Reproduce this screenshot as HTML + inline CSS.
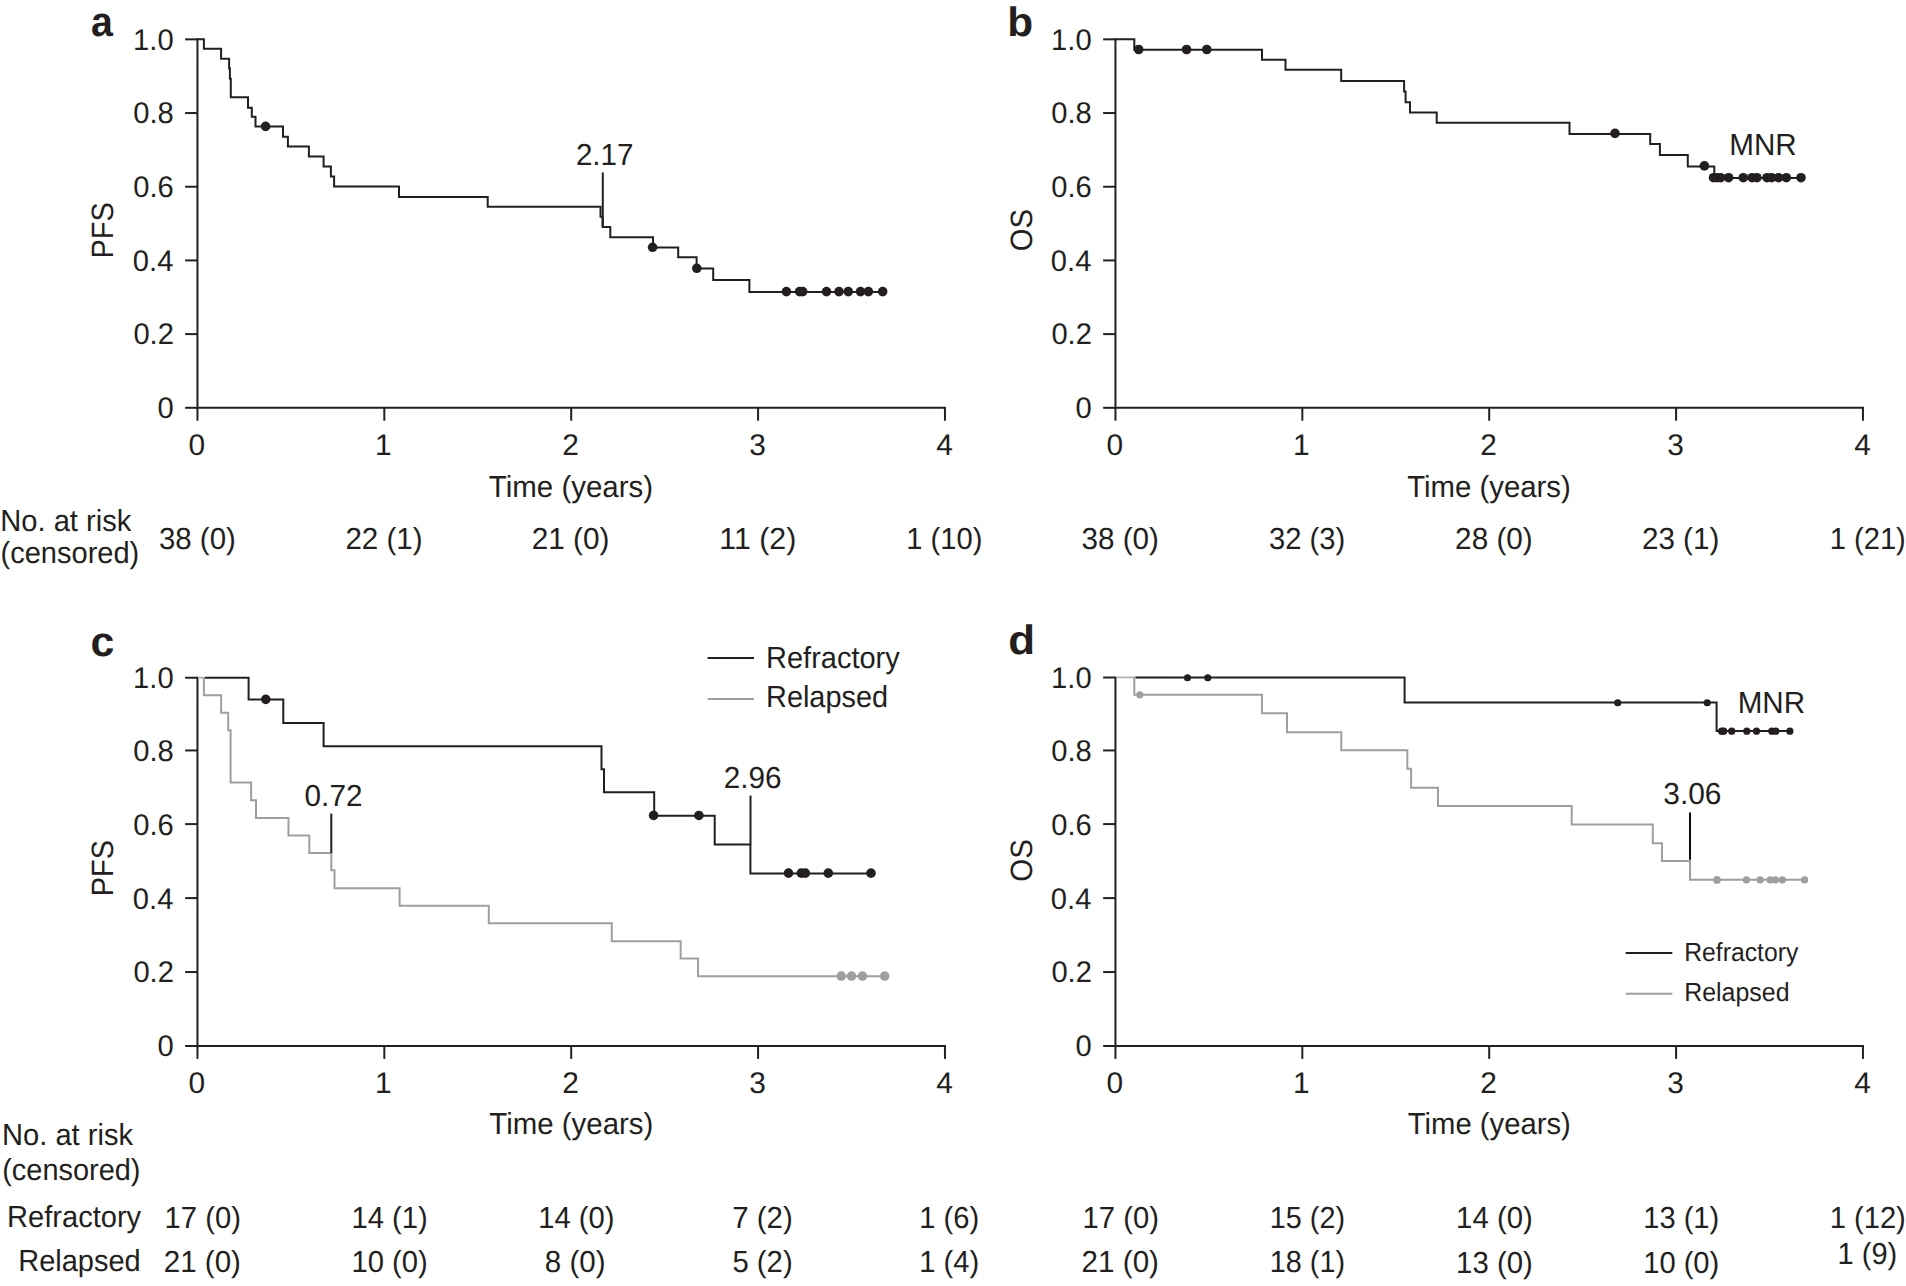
<!DOCTYPE html>
<html lang="en"><head><meta charset="utf-8"><title>Kaplan-Meier PFS and OS</title>
<style>
html,body{margin:0;padding:0;background:#fff;}
svg{display:block;}
text{font-family:"Liberation Sans",sans-serif;text-rendering:geometricPrecision;}
</style></head><body>
<svg width="1906" height="1286" viewBox="0 0 1906 1286">
<rect width="1906" height="1286" fill="#ffffff"/>
<path d="M197.45,38.35V407.80H945.95" fill="none" stroke="#231f20" stroke-width="2.0"/>
<line x1="185.15" y1="39.35" x2="197.45" y2="39.35" stroke="#231f20" stroke-width="2.0"/>
<text transform="translate(133.12,49.55) scale(0.9750,1)" font-size="29.9" fill="#231f20">1.0</text>
<line x1="185.15" y1="113.04" x2="197.45" y2="113.04" stroke="#231f20" stroke-width="2.0"/>
<text transform="translate(133.27,123.24) scale(0.9750,1)" font-size="29.9" fill="#231f20">0.8</text>
<line x1="185.15" y1="186.73" x2="197.45" y2="186.73" stroke="#231f20" stroke-width="2.0"/>
<text transform="translate(133.27,196.93) scale(0.9750,1)" font-size="29.9" fill="#231f20">0.6</text>
<line x1="185.15" y1="260.42" x2="197.45" y2="260.42" stroke="#231f20" stroke-width="2.0"/>
<text transform="translate(132.83,270.62) scale(0.9750,1)" font-size="29.9" fill="#231f20">0.4</text>
<line x1="185.15" y1="334.11" x2="197.45" y2="334.11" stroke="#231f20" stroke-width="2.0"/>
<text transform="translate(133.41,344.31) scale(0.9750,1)" font-size="29.9" fill="#231f20">0.2</text>
<line x1="185.15" y1="407.80" x2="197.45" y2="407.80" stroke="#231f20" stroke-width="2.0"/>
<text transform="translate(157.46,418.00) scale(0.9750,1)" font-size="29.9" fill="#231f20">0</text>
<line x1="197.45" y1="407.80" x2="197.45" y2="420.70" stroke="#231f20" stroke-width="2.0"/>
<text transform="translate(188.55,454.50) scale(1.0000,1)" font-size="29.9" fill="#231f20">0</text>
<line x1="384.32" y1="407.80" x2="384.32" y2="420.70" stroke="#231f20" stroke-width="2.0"/>
<text transform="translate(375.02,454.50) scale(1.0000,1)" font-size="29.9" fill="#231f20">1</text>
<line x1="571.20" y1="407.80" x2="571.20" y2="420.70" stroke="#231f20" stroke-width="2.0"/>
<text transform="translate(562.27,454.50) scale(1.0000,1)" font-size="29.9" fill="#231f20">2</text>
<line x1="758.08" y1="407.80" x2="758.08" y2="420.70" stroke="#231f20" stroke-width="2.0"/>
<text transform="translate(749.25,454.50) scale(1.0000,1)" font-size="29.9" fill="#231f20">3</text>
<line x1="944.95" y1="407.80" x2="944.95" y2="420.70" stroke="#231f20" stroke-width="2.0"/>
<text transform="translate(936.13,454.50) scale(1.0000,1)" font-size="29.9" fill="#231f20">4</text>
<text transform="translate(113.10,258.49) rotate(-90) scale(0.9414,1)" font-size="30.8" fill="#231f20">PFS</text>
<path d="M197.45,39.35H203.90V48.70H221.10V58.80H229.10V68.30H229.90V78.70H230.80V97.20H248.00V107.70H251.80V116.70H255.50V126.60H283.00V136.70H287.90V146.60H308.90V156.60H323.60V166.50H330.90V176.40H334.10V186.60H399.00V197.00H487.70V206.70H600.50V216.70H602.60V227.00H610.30V237.30H653.00V247.60H678.20V257.30H696.60V268.40H713.20V280.00H749.40V291.90H882.60" fill="none" stroke="#231f20" stroke-width="2.0" stroke-linejoin="miter"/>
<circle cx="265.60" cy="126.40" r="4.8" fill="#231f20"/>
<circle cx="652.60" cy="247.30" r="4.8" fill="#231f20"/>
<circle cx="696.80" cy="268.30" r="4.8" fill="#231f20"/>
<circle cx="786.40" cy="291.60" r="4.8" fill="#231f20"/>
<circle cx="799.60" cy="291.60" r="4.8" fill="#231f20"/>
<circle cx="802.70" cy="291.60" r="4.8" fill="#231f20"/>
<circle cx="826.50" cy="291.60" r="4.8" fill="#231f20"/>
<circle cx="839.00" cy="291.60" r="4.8" fill="#231f20"/>
<circle cx="848.30" cy="291.60" r="4.8" fill="#231f20"/>
<circle cx="860.50" cy="291.60" r="4.8" fill="#231f20"/>
<circle cx="868.40" cy="291.60" r="4.8" fill="#231f20"/>
<circle cx="882.70" cy="291.60" r="4.8" fill="#231f20"/>
<line x1="602.80" y1="172.40" x2="602.80" y2="226.60" stroke="#231f20" stroke-width="2.0"/>
<text transform="translate(575.92,164.80) scale(0.9722,1)" font-size="30.4" fill="#231f20">2.17</text>
<text transform="translate(90.92,36.40) scale(0.9346,1)" font-size="42" font-weight="700" fill="#231f20">a</text>
<text transform="translate(488.84,496.90) scale(0.9696,1)" font-size="30.4" fill="#231f20">Time (years)</text>
<text transform="translate(0.30,530.50) scale(0.9576,1)" font-size="30.4" fill="#231f20">No. at risk</text>
<text transform="translate(0.48,562.90) scale(0.9556,1)" font-size="30.4" fill="#231f20">(censored)</text>
<text transform="translate(158.90,548.80) scale(0.9692,1)" font-size="30.4" fill="#231f20">38 (0)</text>
<text transform="translate(345.42,548.80) scale(0.9714,1)" font-size="30.4" fill="#231f20">22 (1)</text>
<text transform="translate(531.71,548.80) scale(0.9793,1)" font-size="30.4" fill="#231f20">21 (0)</text>
<text transform="translate(719.32,548.80) scale(0.9981,1)" font-size="30.4" fill="#231f20">11 (2)</text>
<text transform="translate(906.31,548.80) scale(0.9586,1)" font-size="30.4" fill="#231f20">1 (10)</text>
<path d="M1115.45,38.35V407.80H1863.95" fill="none" stroke="#231f20" stroke-width="2.0"/>
<line x1="1103.15" y1="39.35" x2="1115.45" y2="39.35" stroke="#231f20" stroke-width="2.0"/>
<text transform="translate(1051.12,49.55) scale(0.9750,1)" font-size="29.9" fill="#231f20">1.0</text>
<line x1="1103.15" y1="113.04" x2="1115.45" y2="113.04" stroke="#231f20" stroke-width="2.0"/>
<text transform="translate(1051.27,123.24) scale(0.9750,1)" font-size="29.9" fill="#231f20">0.8</text>
<line x1="1103.15" y1="186.73" x2="1115.45" y2="186.73" stroke="#231f20" stroke-width="2.0"/>
<text transform="translate(1051.27,196.93) scale(0.9750,1)" font-size="29.9" fill="#231f20">0.6</text>
<line x1="1103.15" y1="260.42" x2="1115.45" y2="260.42" stroke="#231f20" stroke-width="2.0"/>
<text transform="translate(1050.83,270.62) scale(0.9750,1)" font-size="29.9" fill="#231f20">0.4</text>
<line x1="1103.15" y1="334.11" x2="1115.45" y2="334.11" stroke="#231f20" stroke-width="2.0"/>
<text transform="translate(1051.41,344.31) scale(0.9750,1)" font-size="29.9" fill="#231f20">0.2</text>
<line x1="1103.15" y1="407.80" x2="1115.45" y2="407.80" stroke="#231f20" stroke-width="2.0"/>
<text transform="translate(1075.46,418.00) scale(0.9750,1)" font-size="29.9" fill="#231f20">0</text>
<line x1="1115.45" y1="407.80" x2="1115.45" y2="420.70" stroke="#231f20" stroke-width="2.0"/>
<text transform="translate(1106.55,454.50) scale(1.0000,1)" font-size="29.9" fill="#231f20">0</text>
<line x1="1302.33" y1="407.80" x2="1302.33" y2="420.70" stroke="#231f20" stroke-width="2.0"/>
<text transform="translate(1293.02,454.50) scale(1.0000,1)" font-size="29.9" fill="#231f20">1</text>
<line x1="1489.20" y1="407.80" x2="1489.20" y2="420.70" stroke="#231f20" stroke-width="2.0"/>
<text transform="translate(1480.27,454.50) scale(1.0000,1)" font-size="29.9" fill="#231f20">2</text>
<line x1="1676.08" y1="407.80" x2="1676.08" y2="420.70" stroke="#231f20" stroke-width="2.0"/>
<text transform="translate(1667.25,454.50) scale(1.0000,1)" font-size="29.9" fill="#231f20">3</text>
<line x1="1862.95" y1="407.80" x2="1862.95" y2="420.70" stroke="#231f20" stroke-width="2.0"/>
<text transform="translate(1854.13,454.50) scale(1.0000,1)" font-size="29.9" fill="#231f20">4</text>
<text transform="translate(1031.80,251.29) rotate(-90) scale(0.9506,1)" font-size="30.8" fill="#231f20">OS</text>
<path d="M1115.45,39.35H1134.30V49.80H1262.00V59.80H1285.50V69.80H1341.20V81.00H1404.10V91.40H1405.60V102.30H1410.00V112.40H1436.70V122.80H1569.50V133.90H1650.20V144.00H1659.90V155.00H1687.80V166.50H1714.30V178.00H1801.00" fill="none" stroke="#231f20" stroke-width="2.0" stroke-linejoin="miter"/>
<circle cx="1138.70" cy="49.50" r="4.8" fill="#231f20"/>
<circle cx="1186.60" cy="49.50" r="4.8" fill="#231f20"/>
<circle cx="1206.80" cy="49.50" r="4.8" fill="#231f20"/>
<circle cx="1615.00" cy="133.40" r="4.8" fill="#231f20"/>
<circle cx="1704.40" cy="165.90" r="4.8" fill="#231f20"/>
<circle cx="1713.50" cy="177.70" r="4.8" fill="#231f20"/>
<circle cx="1717.00" cy="177.70" r="4.8" fill="#231f20"/>
<circle cx="1720.60" cy="177.70" r="4.8" fill="#231f20"/>
<circle cx="1728.60" cy="177.70" r="4.8" fill="#231f20"/>
<circle cx="1743.30" cy="177.70" r="4.8" fill="#231f20"/>
<circle cx="1752.10" cy="177.70" r="4.8" fill="#231f20"/>
<circle cx="1756.90" cy="177.70" r="4.8" fill="#231f20"/>
<circle cx="1767.00" cy="177.70" r="4.8" fill="#231f20"/>
<circle cx="1771.60" cy="177.70" r="4.8" fill="#231f20"/>
<circle cx="1778.50" cy="177.70" r="4.8" fill="#231f20"/>
<circle cx="1786.30" cy="177.70" r="4.8" fill="#231f20"/>
<circle cx="1801.00" cy="177.70" r="4.8" fill="#231f20"/>
<text transform="translate(1729.26,154.80) scale(0.9742,1)" font-size="30.4" fill="#231f20">MNR</text>
<text transform="translate(1007.25,36.40) scale(1.0336,1)" font-size="41" font-weight="700" fill="#231f20">b</text>
<text transform="translate(1407.14,496.90) scale(0.9660,1)" font-size="30.4" fill="#231f20">Time (years)</text>
<text transform="translate(1081.59,548.80) scale(0.9744,1)" font-size="30.4" fill="#231f20">38 (0)</text>
<text transform="translate(1268.90,548.80) scale(0.9613,1)" font-size="30.4" fill="#231f20">32 (3)</text>
<text transform="translate(1455.11,548.80) scale(0.9780,1)" font-size="30.4" fill="#231f20">28 (0)</text>
<text transform="translate(1641.92,548.80) scale(0.9740,1)" font-size="30.4" fill="#231f20">23 (1)</text>
<text transform="translate(1829.71,548.80) scale(0.9586,1)" font-size="30.4" fill="#231f20">1 (21)</text>
<path d="M197.45,676.70V1046.00H945.95" fill="none" stroke="#231f20" stroke-width="2.0"/>
<line x1="185.15" y1="677.75" x2="197.45" y2="677.75" stroke="#231f20" stroke-width="2.0"/>
<text transform="translate(133.12,687.55) scale(0.9750,1)" font-size="29.9" fill="#231f20">1.0</text>
<line x1="185.15" y1="750.45" x2="197.45" y2="750.45" stroke="#231f20" stroke-width="2.0"/>
<text transform="translate(133.27,761.25) scale(0.9750,1)" font-size="29.9" fill="#231f20">0.8</text>
<line x1="185.15" y1="824.10" x2="197.45" y2="824.10" stroke="#231f20" stroke-width="2.0"/>
<text transform="translate(133.27,834.95) scale(0.9750,1)" font-size="29.9" fill="#231f20">0.6</text>
<line x1="185.15" y1="898.10" x2="197.45" y2="898.10" stroke="#231f20" stroke-width="2.0"/>
<text transform="translate(132.83,908.65) scale(0.9750,1)" font-size="29.9" fill="#231f20">0.4</text>
<line x1="185.15" y1="972.05" x2="197.45" y2="972.05" stroke="#231f20" stroke-width="2.0"/>
<text transform="translate(133.41,982.35) scale(0.9750,1)" font-size="29.9" fill="#231f20">0.2</text>
<line x1="185.15" y1="1046.00" x2="197.45" y2="1046.00" stroke="#231f20" stroke-width="2.0"/>
<text transform="translate(157.46,1056.05) scale(0.9750,1)" font-size="29.9" fill="#231f20">0</text>
<line x1="197.45" y1="1046.00" x2="197.45" y2="1058.90" stroke="#231f20" stroke-width="2.0"/>
<text transform="translate(188.55,1092.70) scale(1.0000,1)" font-size="29.9" fill="#231f20">0</text>
<line x1="384.32" y1="1046.00" x2="384.32" y2="1058.90" stroke="#231f20" stroke-width="2.0"/>
<text transform="translate(375.02,1092.70) scale(1.0000,1)" font-size="29.9" fill="#231f20">1</text>
<line x1="571.20" y1="1046.00" x2="571.20" y2="1058.90" stroke="#231f20" stroke-width="2.0"/>
<text transform="translate(562.27,1092.70) scale(1.0000,1)" font-size="29.9" fill="#231f20">2</text>
<line x1="758.08" y1="1046.00" x2="758.08" y2="1058.90" stroke="#231f20" stroke-width="2.0"/>
<text transform="translate(749.25,1092.70) scale(1.0000,1)" font-size="29.9" fill="#231f20">3</text>
<line x1="944.95" y1="1046.00" x2="944.95" y2="1058.90" stroke="#231f20" stroke-width="2.0"/>
<text transform="translate(936.13,1092.70) scale(1.0000,1)" font-size="29.9" fill="#231f20">4</text>
<text transform="translate(113.10,896.18) rotate(-90) scale(0.9379,1)" font-size="30.8" fill="#231f20">PFS</text>
<path d="M204.90,677.70H248.60V699.55H283.30V723.05H323.60V746.35H601.50V769.25H604.00V792.35H654.20V815.85H714.70V844.45H750.40V873.45H871.00" fill="none" stroke="#231f20" stroke-width="2.0" stroke-linejoin="miter"/>
<circle cx="265.80" cy="699.35" r="4.8" fill="#231f20"/>
<circle cx="653.60" cy="815.45" r="4.8" fill="#231f20"/>
<circle cx="698.90" cy="815.45" r="4.8" fill="#231f20"/>
<circle cx="788.50" cy="873.15" r="4.8" fill="#231f20"/>
<circle cx="801.30" cy="873.15" r="4.8" fill="#231f20"/>
<circle cx="805.30" cy="873.15" r="4.8" fill="#231f20"/>
<circle cx="828.30" cy="873.15" r="4.8" fill="#231f20"/>
<circle cx="871.00" cy="873.15" r="4.8" fill="#231f20"/>
<line x1="198.45" y1="677.70" x2="204.90" y2="677.70" stroke="#b1b3b6" stroke-width="1.8"/>
<path d="M203.90,677.10H203.90V695.35H221.10V712.75H228.20V730.35H230.60V782.55H251.10V800.35H256.00V818.05H288.50V835.55H309.30V852.95H331.30V870.25H334.50V888.35H399.60V905.65H488.80V923.35H611.80V941.15H680.70V958.45H698.00V976.25H884.60" fill="none" stroke="#9d9fa2" stroke-width="2.0" stroke-linejoin="miter"/>
<circle cx="841.30" cy="976.05" r="4.8" fill="#9d9fa2"/>
<circle cx="851.50" cy="976.05" r="4.8" fill="#9d9fa2"/>
<circle cx="862.50" cy="976.05" r="4.8" fill="#9d9fa2"/>
<circle cx="884.70" cy="976.05" r="4.8" fill="#9d9fa2"/>
<line x1="750.50" y1="795.55" x2="750.50" y2="844.45" stroke="#231f20" stroke-width="2.0"/>
<text transform="translate(723.71,787.80) scale(0.9784,1)" font-size="30.4" fill="#231f20">2.96</text>
<line x1="331.30" y1="813.55" x2="331.30" y2="853.05" stroke="#231f20" stroke-width="2.0"/>
<text transform="translate(304.59,805.60) scale(0.9780,1)" font-size="30.4" fill="#231f20">0.72</text>
<line x1="707.60" y1="658.00" x2="754.00" y2="658.00" stroke="#231f20" stroke-width="2.0"/>
<line x1="707.60" y1="699.00" x2="754.00" y2="699.00" stroke="#9d9fa2" stroke-width="2.0"/>
<text transform="translate(766.01,668.20) scale(0.9540,1)" font-size="30.4" fill="#231f20">Refractory</text>
<text transform="translate(766.02,707.30) scale(0.9506,1)" font-size="30.4" fill="#231f20">Relapsed</text>
<text transform="translate(90.39,656.40) scale(1.0204,1)" font-size="42" font-weight="700" fill="#231f20">c</text>
<text transform="translate(489.34,1134.10) scale(0.9678,1)" font-size="30.4" fill="#231f20">Time (years)</text>
<text transform="translate(2.05,1145.30) scale(0.9572,1)" font-size="30.4" fill="#231f20">No. at risk</text>
<text transform="translate(2.19,1180.20) scale(0.9521,1)" font-size="30.4" fill="#231f20">(censored)</text>
<text transform="translate(7.10,1227.10) scale(0.9561,1)" font-size="30.4" fill="#231f20">Refractory</text>
<text transform="translate(18.21,1271.10) scale(0.9538,1)" font-size="30.4" fill="#231f20">Relapsed</text>
<text transform="translate(164.61,1227.60) scale(0.9613,1)" font-size="30.4" fill="#231f20">17 (0)</text>
<text transform="translate(351.41,1227.60) scale(0.9613,1)" font-size="30.4" fill="#231f20">14 (1)</text>
<text transform="translate(538.21,1227.60) scale(0.9613,1)" font-size="30.4" fill="#231f20">14 (0)</text>
<text transform="translate(732.13,1227.60) scale(0.9691,1)" font-size="30.4" fill="#231f20">7 (2)</text>
<text transform="translate(919.21,1227.60) scale(0.9594,1)" font-size="30.4" fill="#231f20">1 (6)</text>
<text transform="translate(163.72,1272.30) scale(0.9727,1)" font-size="30.4" fill="#231f20">21 (0)</text>
<text transform="translate(351.41,1272.30) scale(0.9613,1)" font-size="30.4" fill="#231f20">10 (0)</text>
<text transform="translate(544.84,1272.30) scale(0.9721,1)" font-size="30.4" fill="#231f20">8 (0)</text>
<text transform="translate(732.43,1272.30) scale(0.9641,1)" font-size="30.4" fill="#231f20">5 (2)</text>
<text transform="translate(919.21,1272.30) scale(0.9594,1)" font-size="30.4" fill="#231f20">1 (4)</text>
<path d="M1115.45,676.70V1046.00H1863.95" fill="none" stroke="#231f20" stroke-width="2.0"/>
<line x1="1103.15" y1="677.50" x2="1115.45" y2="677.50" stroke="#231f20" stroke-width="2.0"/>
<text transform="translate(1051.12,687.55) scale(0.9750,1)" font-size="29.9" fill="#231f20">1.0</text>
<line x1="1103.15" y1="750.45" x2="1115.45" y2="750.45" stroke="#231f20" stroke-width="2.0"/>
<text transform="translate(1051.27,761.25) scale(0.9750,1)" font-size="29.9" fill="#231f20">0.8</text>
<line x1="1103.15" y1="824.10" x2="1115.45" y2="824.10" stroke="#231f20" stroke-width="2.0"/>
<text transform="translate(1051.27,834.95) scale(0.9750,1)" font-size="29.9" fill="#231f20">0.6</text>
<line x1="1103.15" y1="898.10" x2="1115.45" y2="898.10" stroke="#231f20" stroke-width="2.0"/>
<text transform="translate(1050.83,908.65) scale(0.9750,1)" font-size="29.9" fill="#231f20">0.4</text>
<line x1="1103.15" y1="972.05" x2="1115.45" y2="972.05" stroke="#231f20" stroke-width="2.0"/>
<text transform="translate(1051.41,982.35) scale(0.9750,1)" font-size="29.9" fill="#231f20">0.2</text>
<line x1="1103.15" y1="1046.00" x2="1115.45" y2="1046.00" stroke="#231f20" stroke-width="2.0"/>
<text transform="translate(1075.46,1056.05) scale(0.9750,1)" font-size="29.9" fill="#231f20">0</text>
<line x1="1115.45" y1="1046.00" x2="1115.45" y2="1058.90" stroke="#231f20" stroke-width="2.0"/>
<text transform="translate(1106.55,1092.70) scale(1.0000,1)" font-size="29.9" fill="#231f20">0</text>
<line x1="1302.33" y1="1046.00" x2="1302.33" y2="1058.90" stroke="#231f20" stroke-width="2.0"/>
<text transform="translate(1293.02,1092.70) scale(1.0000,1)" font-size="29.9" fill="#231f20">1</text>
<line x1="1489.20" y1="1046.00" x2="1489.20" y2="1058.90" stroke="#231f20" stroke-width="2.0"/>
<text transform="translate(1480.27,1092.70) scale(1.0000,1)" font-size="29.9" fill="#231f20">2</text>
<line x1="1676.08" y1="1046.00" x2="1676.08" y2="1058.90" stroke="#231f20" stroke-width="2.0"/>
<text transform="translate(1667.25,1092.70) scale(1.0000,1)" font-size="29.9" fill="#231f20">3</text>
<line x1="1862.95" y1="1046.00" x2="1862.95" y2="1058.90" stroke="#231f20" stroke-width="2.0"/>
<text transform="translate(1854.13,1092.70) scale(1.0000,1)" font-size="29.9" fill="#231f20">4</text>
<text transform="translate(1031.80,881.80) rotate(-90) scale(0.9578,1)" font-size="30.8" fill="#231f20">OS</text>
<path d="M1135.30,677.50H1404.60V702.45H1716.60V731.05H1789.90" fill="none" stroke="#231f20" stroke-width="2.0" stroke-linejoin="miter"/>
<line x1="1116.45" y1="677.40" x2="1135.30" y2="677.40" stroke="#b1b3b6" stroke-width="1.8"/>
<path d="M1134.30,676.80H1134.30V694.85H1262.00V713.35H1287.00V732.25H1341.30V750.25H1407.30V768.85H1411.10V787.75H1438.00V805.95H1571.70V824.45H1652.80V843.15H1662.00V860.95H1690.00V879.75H1804.60" fill="none" stroke="#9d9fa2" stroke-width="2.0" stroke-linejoin="miter"/>
<circle cx="1717.00" cy="879.95" r="3.9" fill="#9d9fa2"/>
<circle cx="1139.80" cy="694.95" r="3.6" fill="#9d9fa2"/>
<circle cx="1746.40" cy="879.95" r="3.6" fill="#9d9fa2"/>
<circle cx="1760.10" cy="879.95" r="3.6" fill="#9d9fa2"/>
<circle cx="1770.20" cy="879.95" r="3.6" fill="#9d9fa2"/>
<circle cx="1775.40" cy="879.95" r="3.6" fill="#9d9fa2"/>
<circle cx="1782.30" cy="879.95" r="3.6" fill="#9d9fa2"/>
<circle cx="1804.60" cy="879.95" r="3.6" fill="#9d9fa2"/>
<circle cx="1187.50" cy="677.75" r="3.6" fill="#231f20"/>
<circle cx="1207.80" cy="677.75" r="3.6" fill="#231f20"/>
<circle cx="1617.70" cy="702.75" r="3.6" fill="#231f20"/>
<circle cx="1707.20" cy="702.75" r="3.6" fill="#231f20"/>
<circle cx="1721.60" cy="731.15" r="3.6" fill="#231f20"/>
<circle cx="1723.70" cy="731.15" r="3.6" fill="#231f20"/>
<circle cx="1731.70" cy="731.15" r="3.6" fill="#231f20"/>
<circle cx="1746.80" cy="731.15" r="3.6" fill="#231f20"/>
<circle cx="1756.50" cy="731.15" r="3.6" fill="#231f20"/>
<circle cx="1771.80" cy="731.15" r="3.6" fill="#231f20"/>
<circle cx="1775.80" cy="731.15" r="3.6" fill="#231f20"/>
<circle cx="1789.90" cy="731.15" r="3.6" fill="#231f20"/>
<text transform="translate(1737.66,712.70) scale(0.9742,1)" font-size="30.4" fill="#231f20">MNR</text>
<line x1="1690.00" y1="812.55" x2="1690.00" y2="859.80" stroke="#0c090a" stroke-width="2.0"/>
<text transform="translate(1663.28,804.20) scale(0.9842,1)" font-size="30.4" fill="#231f20">3.06</text>
<line x1="1625.70" y1="953.10" x2="1672.30" y2="953.10" stroke="#231f20" stroke-width="2.0"/>
<line x1="1625.70" y1="993.80" x2="1672.30" y2="993.80" stroke="#9d9fa2" stroke-width="2.0"/>
<text transform="translate(1684.26,961.00) scale(0.9442,1)" font-size="26.2" fill="#231f20">Refractory</text>
<text transform="translate(1684.24,1001.40) scale(0.9514,1)" font-size="26.2" fill="#231f20">Relapsed</text>
<text transform="translate(1008.24,653.90) scale(1.0722,1)" font-size="41" font-weight="700" fill="#231f20">d</text>
<text transform="translate(1407.74,1134.10) scale(0.9624,1)" font-size="30.4" fill="#231f20">Time (years)</text>
<text transform="translate(1082.61,1227.60) scale(0.9613,1)" font-size="30.4" fill="#231f20">17 (0)</text>
<text transform="translate(1269.84,1227.60) scale(0.9467,1)" font-size="30.4" fill="#231f20">15 (2)</text>
<text transform="translate(1456.10,1228.10) scale(0.9653,1)" font-size="30.4" fill="#231f20">14 (0)</text>
<text transform="translate(1643.22,1228.10) scale(0.9573,1)" font-size="30.4" fill="#231f20">13 (1)</text>
<text transform="translate(1829.71,1228.10) scale(0.9586,1)" font-size="30.4" fill="#231f20">1 (12)</text>
<text transform="translate(1081.62,1272.30) scale(0.9740,1)" font-size="30.4" fill="#231f20">21 (0)</text>
<text transform="translate(1269.84,1272.30) scale(0.9467,1)" font-size="30.4" fill="#231f20">18 (1)</text>
<text transform="translate(1456.10,1272.80) scale(0.9653,1)" font-size="30.4" fill="#231f20">13 (0)</text>
<text transform="translate(1643.22,1272.80) scale(0.9573,1)" font-size="30.4" fill="#231f20">10 (0)</text>
<text transform="translate(1837.62,1264.00) scale(0.9543,1)" font-size="30.4" fill="#231f20">1 (9)</text>
</svg>
</body></html>
